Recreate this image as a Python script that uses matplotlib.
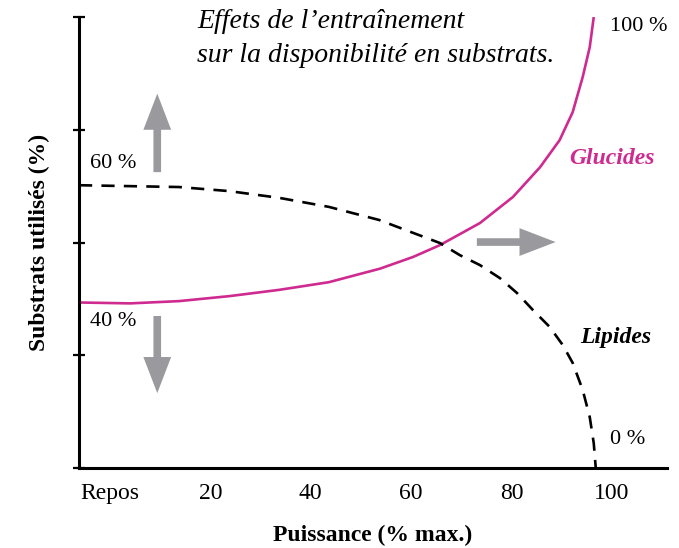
import matplotlib
matplotlib.use("Agg")
import matplotlib.pyplot as plt

# Data (x in % of max power, 0 = rest; y in % of substrates used)
gluc_x = [-6.2, 4.0, 13.7, 23.7, 33.7, 43.6, 53.8, 60.4, 65.7, 73.7, 80.3, 85.7, 89.6, 92.2, 94.2, 95.6, 96.4]
gluc_y = [36.7, 36.5, 37.0, 38.1, 39.5, 41.2, 44.2, 46.8, 49.4, 54.3, 60.1, 66.7, 72.7, 78.9, 86.7, 93.3, 100]
lip_x = [-6.2, 13.7, 23.7, 33.7, 43.6, 53.6, 65.7, 69.7, 73.7, 77.7, 81.1, 84.3, 87.6, 90.2, 92.2, 94.2, 95.6, 96.4, 96.8]
lip_y = [62.7, 62.3, 61.4, 59.9, 57.9, 55.0, 49.9, 47.2, 45.0, 42.1, 38.8, 35.0, 31.3, 27.3, 23.3, 17.3, 11.3, 5.5, 0]
xtick_pos = [0, 20, 40, 60, 80, 100]
xtick_labels = ["Repos", "20", "40", "60", "80", "100"]
ytick_pos = [0, 25, 50, 75, 100]

PINK = "#cf2a8f"
GRAY = "#9a9a9e"
FONT = "Liberation Serif"
plt.rcParams["font.family"] = [FONT, "DejaVu Serif"]

fig = plt.figure(figsize=(6.79, 5.48), dpi=100)
ax = fig.add_axes([79/679, 1-468/548, (667-79)/679, (468-17)/548])
ax.set_xlim(-6.2, 111)
ax.set_ylim(0, 100)

ax.plot(gluc_x, gluc_y, color=PINK, lw=1.9, solid_capstyle="butt", solid_joinstyle="round")
ax.plot(lip_x, lip_y, color="black", lw=1.9, dashes=(5, 3.5))

for s in ["top", "right"]:
    ax.spines[s].set_visible(False)
for s in ["left", "bottom"]:
    ax.spines[s].set_linewidth(2.2)
ax.spines["left"].set_bounds(0, 100)

ax.set_yticks(ytick_pos)
ax.set_yticklabels([])
ax.tick_params(axis="y", direction="inout", length=8, width=1.6)
ax.set_xticks(xtick_pos)
ax.set_xticklabels(xtick_labels, fontsize=17)
ax.tick_params(axis="x", length=0, pad=11)

ax.set_xlabel("Puissance (% max.)", fontsize=17, fontweight="bold", labelpad=15)
ax.set_ylabel("Substrats utilisés (%)", fontsize=17, fontweight="bold", labelpad=13)

def arrow(x0, y0, x1, y1):
    ax.annotate("", xy=(x1, y1), xytext=(x0, y0),
                arrowprops=dict(arrowstyle="simple,head_width=20,head_length=26,tail_width=5.5",
                                mutation_scale=1, color=GRAY, lw=0,
                                shrinkA=0, shrinkB=0))

arrow(9.4, 65.6, 9.4, 83.0)
arrow(9.4, 33.7, 9.4, 16.6)
arrow(73.1, 50.1, 88.8, 50.1)

ax.text(-4, 67.6, "60 %", fontsize=16, va="center", ha="left")
ax.text(-4, 32.4, "40 %", fontsize=16, va="center", ha="left")
ax.text(99.6, 97.8, "100 %", fontsize=16, va="center", ha="left")
ax.text(99.6, 6.4, "0 %", fontsize=16, va="center", ha="left")
ax.text(91.6, 68.7, "Glucides", fontsize=17, va="center", ha="left",
        style="italic", fontweight="bold", color=PINK)
ax.text(93.6, 29, "Lipides", fontsize=17, va="center", ha="left",
        style="italic", fontweight="bold", color="black")

fig.text(197/679, 1-9/548, "Effets de l’entraînement\nsur la disponibilité en substrats.",
         fontsize=20, style="italic", ha="left", va="top", linespacing=1.45)

fig.savefig("out.png", dpi=100)
